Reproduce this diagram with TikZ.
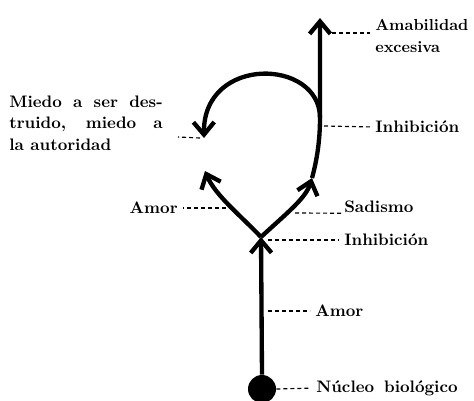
\documentclass[tikz,border=0pt]{standalone}
\usepackage{tikz}
\usetikzlibrary{arrows.meta,positioning}

\begin{document}
\begin{tikzpicture}[x=0.6pt, y=-0.6pt,
    flow/.style={line width=2.6pt, -{Straight Barb[length=7.5pt,width=12.5pt]}},
    leader/.style={line width=0.7pt, dash pattern=on 2.4pt off 1.8pt, shorten >=3pt},
    lbl/.style={font=\bfseries\fontsize{10}{12.8}\selectfont, inner sep=0pt, anchor=west}]
    \useasboundingbox (0,0) rectangle (474,400);

    % Nucleus and stem
    \node[circle, fill, minimum size=16.8pt, inner sep=0pt] (nucleo) at (262,389) {};
    \coordinate (bif) at (261,237);
    \draw[flow] (nucleo.north) -- (bif);

    % Branches
    \coordinate (izq) at (205,171);
    \coordinate (sad) at (312,178);
    \draw[flow] (bif) .. controls (240,215) and (215,195) .. (izq);
    \draw[flow] (bif) .. controls (288,212) and (306,198) .. (sad);

    % Upward line and loop
    \coordinate (giro) at (320,118);
    \coordinate (cima) at (320,18);
    \coordinate (fin) at (204,138);
    \draw[flow] (sad) .. controls (317,160) and (320,140) .. (giro) -- (cima);
    \draw[flow] (giro) .. controls (320,58) and (203,55) .. (fin);

    % Labels
    \node[lbl, align=left, font=\bfseries\fontsize{9.6}{13.2}\selectfont] (amab) at (375,36) {Amabilidad\\excesiva};
    \node[lbl] (inh1) at (375,127) {Inhibición};
    \node[lbl, text width=92pt, align=justify] (miedo) at (9,123)
        {Miedo a ser des-\linebreak truido, miedo a\linebreak la autoridad};
    \node[lbl, anchor=east] (amor1) at (178,208) {Amor};
    \node[lbl] (sadismo) at (344,207) {Sadismo};
    \node[lbl] (inh2) at (344,240) {Inhibición};
    \node[lbl] (amor2) at (315,311) {Amor};
    \node[lbl] (nucl) at (316,388) {Núcleo\hspace{6pt}biológico};

    % Leaders
    \coordinate (l1) at (332,33);
    \coordinate (l2) at (324,126);
    \coordinate (l3) at (178,137);
    \coordinate (l4) at (233,208);
    \coordinate (l5) at (295,213);
    \coordinate (l6) at (268,240);
    \coordinate (l7) at (268,311);
    \draw[leader] (l1) -- (amab.west |- l1);
    \draw[leader] (l2) -- (inh1.west);
    \draw[leader, shorten >=0pt] (fin) ++(-4,0) -- (l3);
    \draw[leader] (l4) -- (amor1.east);
    \draw[leader, shorten >=1pt] (l5) -- (sadismo.south west);
    \draw[leader] (l6) -- (inh2.west);
    \draw[leader] (l7) -- (amor2.west);
    \draw[leader] (nucleo.east) -- (nucl.west);
\end{tikzpicture}
\end{document}
